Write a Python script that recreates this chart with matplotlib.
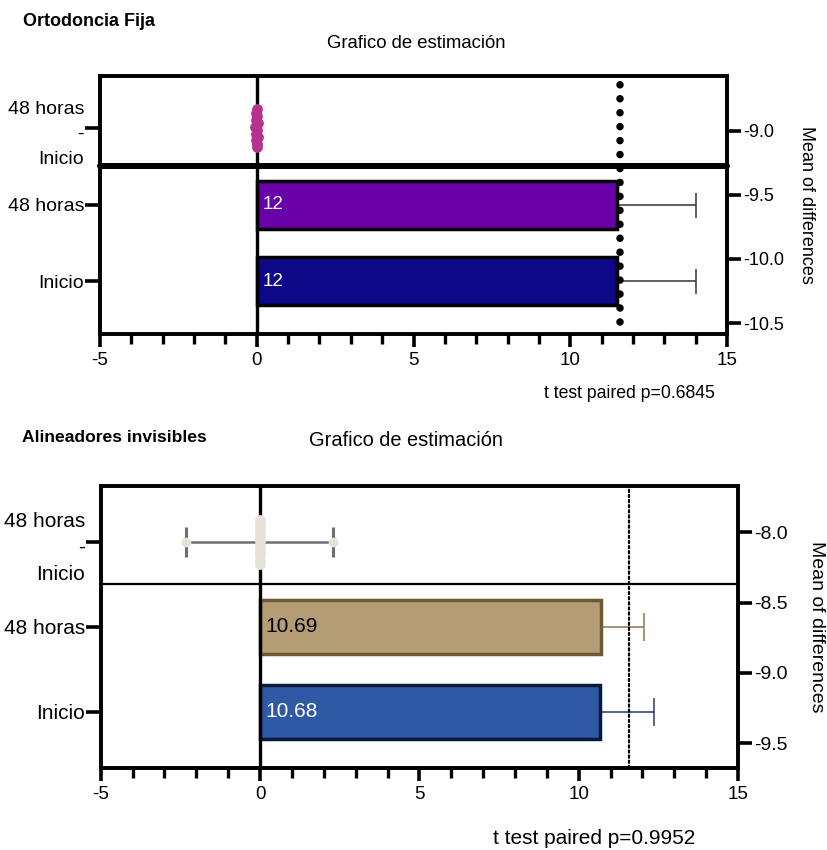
import numpy as np
import matplotlib.pyplot as plt
from matplotlib.ticker import MultipleLocator

plt.rcParams['font.family'] = ['Liberation Sans', 'DejaVu Sans']
plt.rcParams['axes.unicode_minus'] = False

# Categories (bottom to top) and the label of the difference row
categories = ["Inicio", "48 horas"]
diff_label = "48 horas\n-\nInicio"

# Ortodoncia Fija
fija_means = [11.5, 11.5]
fija_err = [2.5, 2.5]
fija_bar_text = ["12", "12"]
fija_colors = ["#0d0887", "#6a00a8"]
fija_edges = ["#000000", "#000000"]
fija_err_colors = ["#333333", "#333333"]
fija_text_colors = ["white", "white"]
fija_diffs = [0.0, 0.02, -0.03, 0.03, -0.02, 0.01, -0.04, 0.03, -0.01, 0.02, -0.03, 0.0]
fija_diff_spread = [-0.25, -0.2, -0.16, -0.11, -0.07, -0.02, 0.02, 0.07, 0.11, 0.16, 0.2, 0.25]
fija_ref = 11.58
fija_right_ticks = [-10.5, -10.0, -9.5, -9.0]
fija_right_lim = (-10.585, -8.573)
fija_p = "t test paired p=0.6845"

# Alineadores invisibles
alin_means = [10.68, 10.69]
alin_err = [1.69, 1.36]
alin_bar_text = ["10.68", "10.69"]
alin_colors = ["#2f58a5", "#b49c74"]
alin_edges = ["#0b1a3a", "#6e5a37"]
alin_err_colors = ["#263c6e", "#8b7652"]
alin_text_colors = ["white", "black"]
alin_diffs = [0.0, 0.01, -0.01, 0.01, 0.0, -0.01, 0.01, 0.0, -0.01, 0.01, 0.0, -0.01]
alin_diff_spread = [-0.26, -0.21, -0.16, -0.12, -0.07, -0.02, 0.02, 0.07, 0.12, 0.16, 0.21, 0.26]
alin_ci_low = -2.33
alin_ci_high = 2.30
alin_ref = 11.58
alin_right_ticks = [-9.5, -9.0, -8.5, -8.0]
alin_right_lim = (-9.674, -7.669)
alin_p = "t test paired p=0.9952"


def panel(ax, means, errs, texts, colors, edges, ecolors, tcolors, diffs, spread,
          ref, rticks, rlim, ylim, bar_h, divider_lw, ref_style, ref_lw, ref_ymin,
          dot_color, capsize, fs, yfs, bfs, rfs, lsp, rpad):
    ys = np.arange(len(categories))
    for y, m, e, ec in zip(ys, means, errs, ecolors):
        ax.errorbar([m], [y], xerr=[e], fmt='none', ecolor=ec, elinewidth=1.1,
                    capsize=capsize, capthick=1.1, zorder=1)
    ax.barh(ys, means, height=bar_h, color=colors, edgecolor=edges, linewidth=2.5, zorder=2)
    for y, t, c in zip(ys, texts, tcolors):
        ax.text(0.18, y, t, va='center', ha='left', color=c, fontsize=bfs, zorder=4)

    dy = len(categories)
    ax.axvline(0, color='black', lw=2.4, zorder=3)
    ax.axhline(dy - 0.5, color='black', lw=divider_lw, solid_capstyle='round',
               clip_on=False, zorder=3)
    ax.plot([ref, ref], [ref_ymin, ylim[1]], color='black', lw=ref_lw,
            linestyle=ref_style, dash_capstyle='round', zorder=5, clip_on=False)
    ax.scatter(diffs, dy + np.array(spread), s=60, color=dot_color, zorder=6, linewidths=0)

    ax.set_xlim(-5, 15)
    ax.set_ylim(*ylim)
    ax.set_xticks([-5, 0, 5, 10, 15])
    ax.xaxis.set_minor_locator(MultipleLocator(1))
    ax.set_yticks(list(ys) + [dy])
    ax.set_yticklabels(categories + [diff_label], linespacing=lsp)
    ax.tick_params(axis='x', which='major', length=9, width=2.6, pad=4, labelsize=fs)
    ax.tick_params(axis='x', which='minor', length=7, width=2.4)
    ax.tick_params(axis='y', length=11, width=2.6, pad=0.5, labelsize=yfs)
    for s in ax.spines.values():
        s.set_linewidth(2.6)

    ax2 = ax.twinx()
    ax2.set_ylim(*rlim)
    ax2.set_yticks(rticks)
    ax2.set_yticklabels([f"{v:.1f}" for v in rticks])
    ax2.tick_params(axis='y', length=10, width=2.6, pad=1.5, labelsize=rfs)
    for s in ax2.spines.values():
        s.set_linewidth(2.6)
    ax2.set_ylabel("Mean of differences", rotation=270, fontsize=rfs, labelpad=rpad)
    return dy


fig = plt.figure(figsize=(8.27, 8.5), dpi=100)

ax_top = fig.add_axes([0.1209, 0.6071, 0.7582, 0.3035])
panel(ax_top, fija_means, fija_err, fija_bar_text, fija_colors, fija_edges,
      fija_err_colors, fija_text_colors, fija_diffs, fija_diff_spread, fija_ref,
      fija_right_ticks, fija_right_lim, (-0.693, 2.684), 0.63, 4.3,
      (0, (0.01, 1.85)), 5.4, -0.54, "#b5338f", 9, 13.5, 14, 13.5, 13, 1.62, 22)

ax_bot = fig.add_axes([0.1218, 0.0968, 0.7706, 0.3318])
dy_bot = panel(ax_bot, alin_means, alin_err, alin_bar_text, alin_colors, alin_edges,
               alin_err_colors, alin_text_colors, alin_diffs, alin_diff_spread, alin_ref,
               alin_right_ticks, alin_right_lim, (-0.659, 2.662), 0.64, 1.6,
               (0, (1, 1.3)), 1.6, -0.659, "#e6e2d8", 10, 13.5, 15, 15, 14, 1.5, 27)

# confidence interval of the mean difference (Alineadores)
ax_bot.plot([alin_ci_low, alin_ci_high], [dy_bot, dy_bot], color='#6f6f6f', lw=1.8, zorder=4)
ax_bot.plot([alin_ci_low, alin_ci_high], [dy_bot, dy_bot], linestyle='none', marker='|',
            markersize=21, markeredgewidth=2.2, color='#6f6f6f', zorder=4)
ax_bot.plot([alin_ci_low, alin_ci_high], [dy_bot, dy_bot], linestyle='none', marker='o',
            markersize=7, markeredgewidth=0, color='#e6e2d8', zorder=5)

fig.text(23 / 827, 1 - 22 / 850, "Ortodoncia Fija", fontsize=13, fontweight='bold',
         ha='left', va='center')
fig.text(416 / 827, 1 - 43 / 850, "Grafico de estimación", fontsize=13.3,
         ha='center', va='center')
fig.text(715 / 827, 1 - 393 / 850, fija_p, fontsize=12.7, ha='right', va='center')

fig.text(22 / 827, 1 - 438 / 850, "Alineadores invisibles", fontsize=12.6,
         fontweight='bold', ha='left', va='center')
fig.text(406 / 827, 1 - 440 / 850, "Grafico de estimación", fontsize=14.4,
         ha='center', va='center')
fig.text(695 / 827, 1 - 839 / 850, alin_p, fontsize=15, ha='right', va='center')

fig.savefig('out.png', dpi=100)
